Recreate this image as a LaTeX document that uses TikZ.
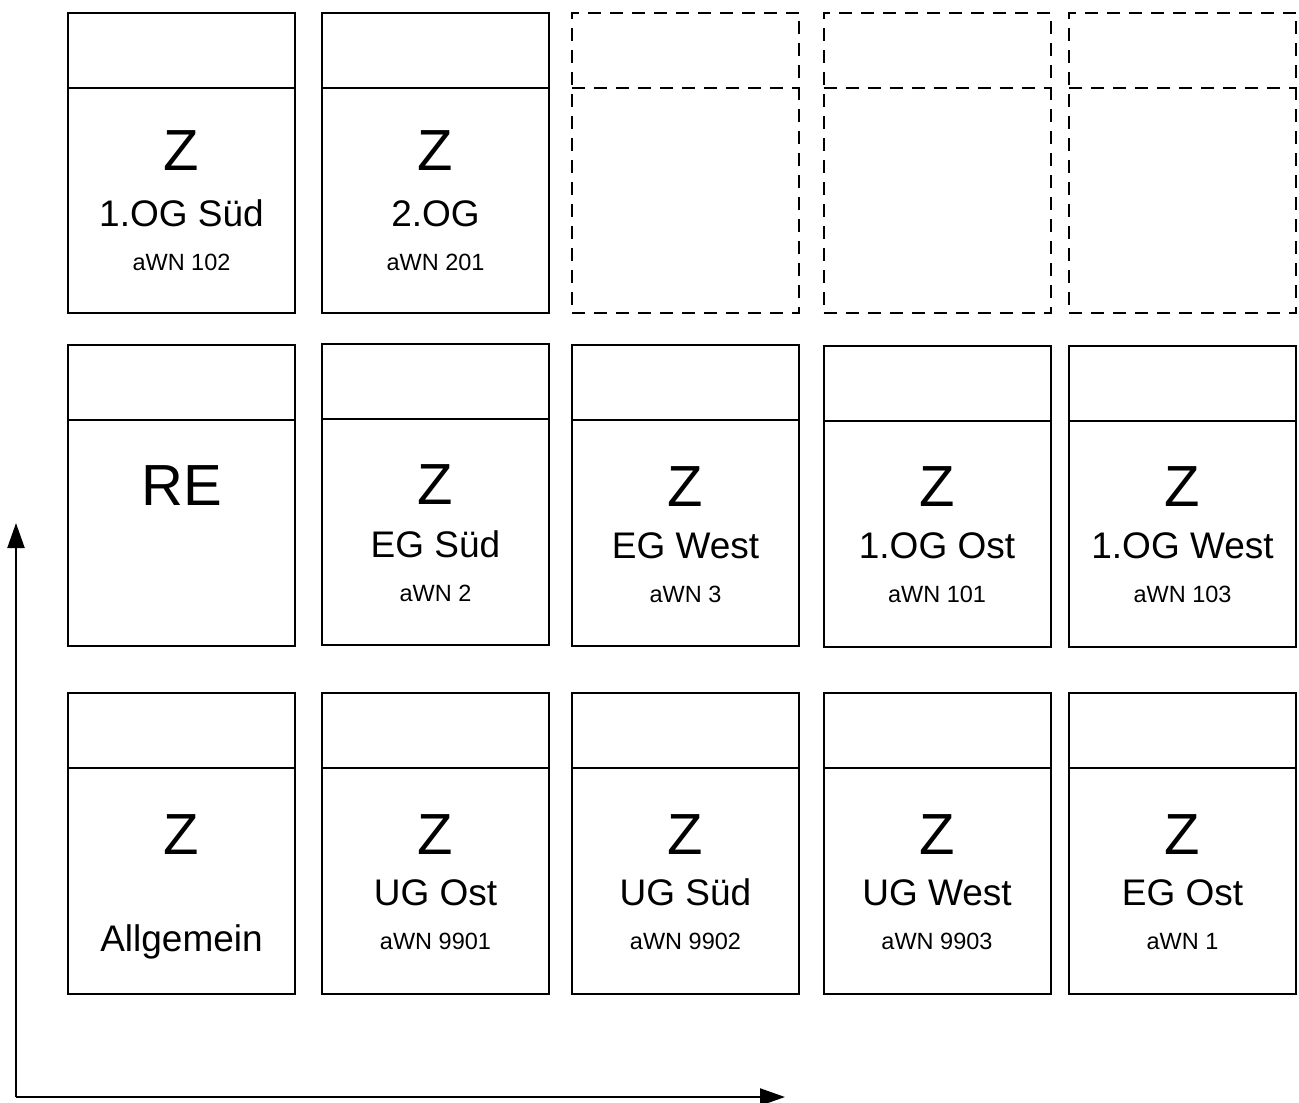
\documentclass[tikz,border=0pt]{standalone}
\usepackage{fontspec}
\setmainfont{Liberation Sans}
\usetikzlibrary{arrows.meta,calc}
\tikzset{
  cell/.style={draw, line width=2pt, minimum width=227pt, inner sep=0pt, outer sep=0pt},
  ghost/.style={dash pattern=on 13pt off 9pt},
  solidc/.style={},
  bigt/.style={inner sep=0pt, anchor=base, font=\fontsize{58}{60}\selectfont},
  midt/.style={inner sep=0pt, anchor=base, font=\fontsize{37}{40}\selectfont},
  smallt/.style={inner sep=0pt, anchor=base, font=\fontsize{23.5}{26}\selectfont},
  axis/.style={line width=2.2pt, -{Triangle[length=25pt, width=17pt]}}
}
% name, center x, top, divider, bottom, style
\newcommand\mkcell[6]{%
  \node[cell,#6,minimum height=#5pt-#3pt] (#1) at (#2,{(#3+#5)/2}) {};
  \coordinate (#1d) at (0,#4);
  \draw[line width=2pt,#6] (#1.west |- #1d) -- (#1.east |- #1d);
}
\begin{document}
\begin{tikzpicture}[x=1pt,y=-1pt]
\useasboundingbox (0,0) rectangle (1299,1103);
% row 1
\mkcell{a1}{181.5}{12.5}{87.5}{313}{solidc}
\mkcell{a2}{435.5}{12.5}{87.5}{313}{solidc}
\mkcell{a3}{685.5}{12.5}{87.5}{313}{ghost}
\mkcell{a4}{937}{12.5}{87.5}{313}{ghost}
\mkcell{a5}{1182.5}{12.5}{87.5}{313}{ghost}
\node[bigt] (a1z) at (181.5,170) {Z};
\node[midt] (a1m) at (181.5,226) {1.OG Süd};
\node[smallt] (a1s) at (181.5,270) {aWN 102};
\node[bigt] (a2z) at (435.5,170) {Z};
\node[midt] (a2m) at (435.5,226) {2.OG};
\node[smallt] (a2s) at (435.5,270) {aWN 201};
% row 2
\mkcell{b1}{181.5}{344.5}{420}{646}{solidc}
\mkcell{b2}{435.5}{343.5}{418.5}{645}{solidc}
\mkcell{b3}{685.5}{345}{420}{646}{solidc}
\mkcell{b4}{937}{346}{421}{647}{solidc}
\mkcell{b5}{1182.5}{346}{421}{647}{solidc}
\node[bigt] (b1z) at (181.5,505) {RE};
\node[bigt] (b2z) at (435.5,504) {Z};
\node[midt] (b2m) at (435.5,557) {EG Süd};
\node[smallt] (b2s) at (435.5,601) {aWN 2};
\node[bigt] (b3z) at (685.5,506) {Z};
\node[midt] (b3m) at (685.5,558) {EG West};
\node[smallt] (b3s) at (685.5,602) {aWN 3};
\node[bigt] (b4z) at (937,506) {Z};
\node[midt] (b4m) at (937,558) {1.OG Ost};
\node[smallt] (b4s) at (937,602) {aWN 101};
\node[bigt] (b5z) at (1182.5,506) {Z};
\node[midt] (b5m) at (1182.5,558) {1.OG West};
\node[smallt] (b5s) at (1182.5,602) {aWN 103};
% row 3
\mkcell{c1}{181.5}{692.5}{768}{994}{solidc}
\mkcell{c2}{435.5}{692.5}{768}{994}{solidc}
\mkcell{c3}{685.5}{692.5}{768}{994}{solidc}
\mkcell{c4}{937}{692.5}{768}{994}{solidc}
\mkcell{c5}{1182.5}{692.5}{768}{994}{solidc}
\node[bigt] (c1z) at (181.5,854) {Z};
\node[midt] (c1m) at (181.5,951) {Allgemein};
\node[bigt] (c2z) at (435.5,854) {Z};
\node[midt] (c2m) at (435.5,905) {UG Ost};
\node[smallt] (c2s) at (435.5,949) {aWN 9901};
\node[bigt] (c3z) at (685.5,854) {Z};
\node[midt] (c3m) at (685.5,905) {UG Süd};
\node[smallt] (c3s) at (685.5,949) {aWN 9902};
\node[bigt] (c4z) at (937,854) {Z};
\node[midt] (c4m) at (937,905) {UG West};
\node[smallt] (c4s) at (937,949) {aWN 9903};
\node[bigt] (c5z) at (1182.5,854) {Z};
\node[midt] (c5m) at (1182.5,905) {EG Ost};
\node[smallt] (c5s) at (1182.5,949) {aWN 1};
% axes
\coordinate (origin) at (16,1097);
\coordinate (ytip) at (16,523);
\coordinate (xtip) at (785,1097);
\draw[axis] (origin) -- (ytip);
\draw[axis] (origin) -- (xtip);
\end{tikzpicture}
\end{document}
